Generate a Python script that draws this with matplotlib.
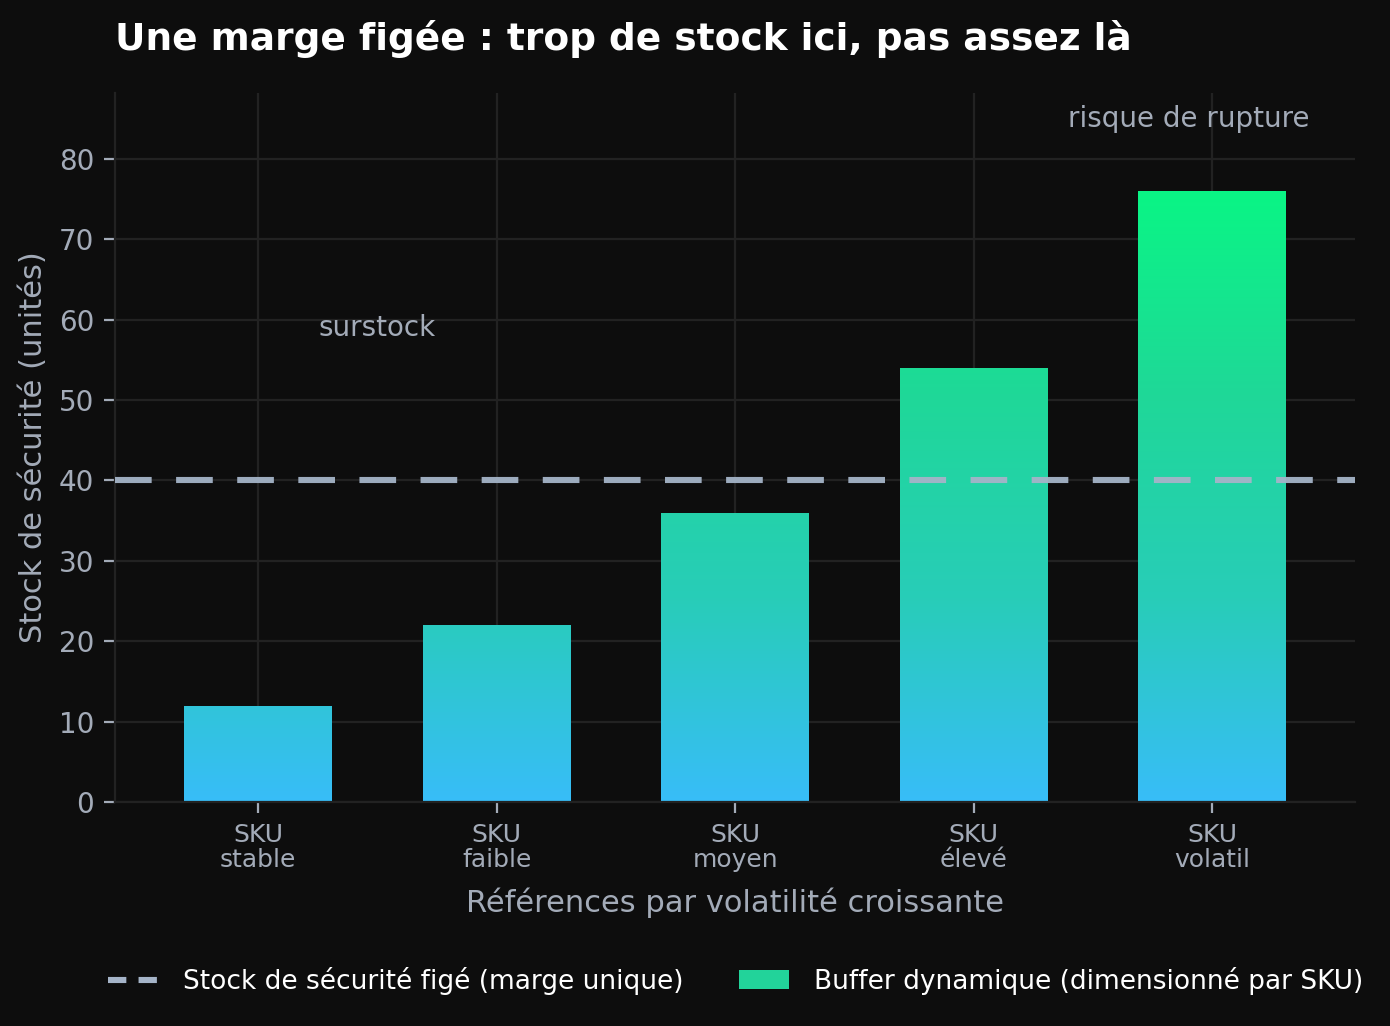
import matplotlib
matplotlib.use("Agg")
import matplotlib.pyplot as plt
import numpy as np
from matplotlib.colors import LinearSegmentedColormap
from matplotlib.lines import Line2D
from matplotlib.patches import Patch

categories = ["SKU\nstable", "SKU\nfaible", "SKU\nmoyen", "SKU\nélevé", "SKU\nvolatil"]
buffer_values = [12, 22, 36, 54, 76]
fixed_margin = 40

BG = "#0d0d0d"
GRID = "#222222"
TXT = "#a3abb8"

cmap = LinearSegmentedColormap.from_list("buf", ["#38bdf8", "#28cdb8", "#1fd898", "#0af585"])

fig = plt.figure(figsize=(6.95, 5.13), dpi=200, facecolor=BG)
ax = fig.add_axes([0.0827, 0.2183, 0.8923, 0.6911], facecolor=BG)

x = np.arange(len(categories))
width = 0.62
bars = ax.bar(x, buffer_values, width=width, color="none", edgecolor="none", zorder=2)

# vertical gradient, mapped on absolute height so taller bars get greener
vmax = max(buffer_values)
grad = np.linspace(0, 1, 256).reshape(-1, 1)
for b in bars:
    im = ax.imshow(grad, cmap=cmap, origin="lower", aspect="auto",
                   extent=(b.get_x(), b.get_x() + b.get_width(), 0, vmax), zorder=2)
    im.set_clip_path(b)

ax.axhline(fixed_margin, color="#a5b4c8", lw=2.2, ls=(0, (6, 4)), alpha=0.95, zorder=3)

ax.text(0.5, 59, "surstock", color=TXT, fontsize=10, ha="center", va="center")
ax.text(3.9, 85, "risque de rupture", color=TXT, fontsize=10, ha="center", va="center")

ax.set_xlim(-0.6, 4.6)
ax.set_ylim(0, 88.2)
ax.set_xticks(x)
ax.set_xticklabels(categories, fontsize=9, color=TXT, linespacing=1.05)
ax.set_yticks(range(0, 90, 10))
ax.tick_params(axis="y", colors=TXT, labelsize=10, length=4)
ax.tick_params(axis="x", colors=TXT, length=4)
ax.grid(True, color=GRID, lw=0.8, zorder=0)
ax.set_axisbelow(True)
for s in ["top", "right"]:
    ax.spines[s].set_visible(False)
for s in ["left", "bottom"]:
    ax.spines[s].set_color(GRID)

ax.set_ylabel("Stock de sécurité (unités)", color=TXT, fontsize=11)
ax.set_xlabel("Références par volatilité croissante", color=TXT, fontsize=11, labelpad=5.5)
ax.set_title("Une marge figée : trop de stock ici, pas assez là", loc="left",
             color="white", fontsize=13.5, fontweight="bold", pad=15.5)

handles = [Line2D([0], [0], color="#a5b4c8", lw=2.2, ls=(0, (3, 2)),
                  label="Stock de sécurité figé (marge unique)"),
           Patch(facecolor="#22d39a", label="Buffer dynamique (dimensionné par SKU)")]
fig.legend(handles=handles, loc="center", bbox_to_anchor=(0.529, 0.044), ncol=2,
           frameon=False, fontsize=9.5, labelcolor="white", columnspacing=2.1,
           handlelength=1.9, handletextpad=0.95)

fig.savefig("out.png", dpi=200, facecolor=BG)
